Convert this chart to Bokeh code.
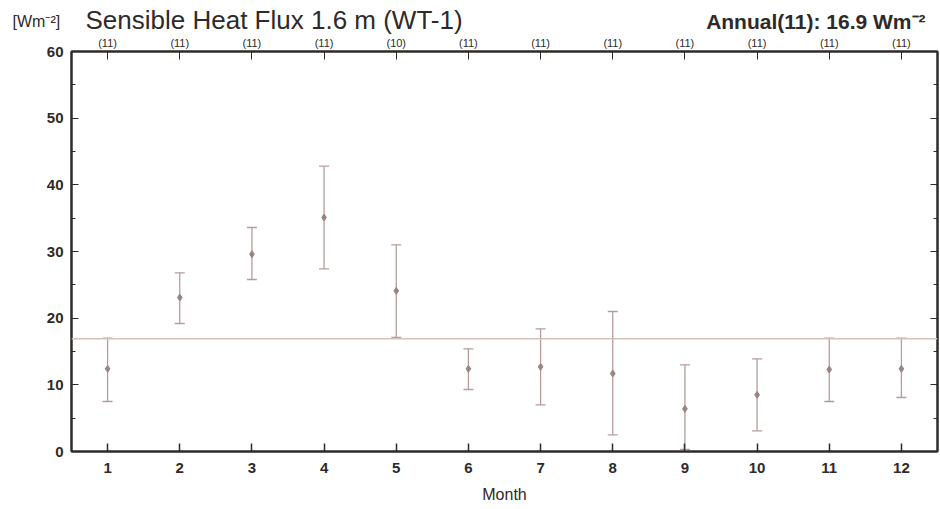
from bokeh.plotting import figure
from bokeh.models import (ColumnDataSource, Whisker, TeeHead, Span, Title, LinearAxis,
                          FixedTicker, SingleIntervalTicker, Range1d, CustomJSTickFormatter)
from bokeh.embed import file_html
from bokeh.resources import INLINE

months = [1, 2, 3, 4, 5, 6, 7, 8, 9, 10, 11, 12]
mean_flux = [12.4, 23.1, 29.6, 35.1, 24.1, 12.4, 12.7, 11.7, 6.4, 8.5, 12.3, 12.4]
upper_flux = [17.0, 26.8, 33.6, 42.8, 31.0, 15.4, 18.4, 21.0, 13.0, 13.9, 17.0, 17.0]
lower_flux = [7.5, 19.2, 25.8, 27.4, 17.1, 9.3, 7.0, 2.5, 0.3, 3.1, 7.5, 8.1]
counts = ["(11)", "(11)", "(11)", "(11)", "(10)", "(11)", "(11)", "(11)", "(11)", "(11)", "(11)", "(11)"]
annual_mean = 16.9
annual_n = 11
title_text = "Sensible Heat Flux 1.6 m (WT-1)"
unit_text = "[Wm\u207b\u00b2]"
annual_text = f"Annual({annual_n}): {annual_mean} Wm\u207b\u00b2"

FONT = "Liberation Sans"
DARK = "#2e2a2a"
BAR = "#b49e9c"
MEAN = "#9a8482"
LINE = "#d8c0bc"

src = ColumnDataSource(dict(x=months, m=mean_flux, up=upper_flux, lo=lower_flux))

p = figure(width=940, height=509, output_backend="svg", toolbar_location=None,
           x_range=Range1d(0.5, 12.5), y_range=Range1d(0, 60),
           min_border_left=71, min_border_top=51, min_border_bottom=58, min_border_right=3,
           x_axis_label="Month")
p.background_fill_color = "white"
p.border_fill_color = "white"
p.outline_line_color = DARK
p.outline_line_width = 2
p.xgrid.visible = False
p.ygrid.visible = False

# header texts as zero-height titles sharing one row
p.add_layout(Title(text=unit_text, align="left", offset=-59, standoff=-77, vertical_align="top",
                   text_font=FONT, text_font_size="16px", text_font_style="normal",
                   text_color=DARK), "above")
p.add_layout(Title(text=title_text, align="left", offset=14, standoff=-93, vertical_align="top",
                   text_font=FONT, text_font_size="26px", text_font_style="normal",
                   text_color=DARK), "above")
p.add_layout(Title(text=annual_text, align="right", offset=12, standoff=-84, vertical_align="top",
                   text_font=FONT, text_font_size="21px", text_font_style="bold",
                   text_color=DARK), "above")

# bottom axis
xa = p.xaxis[0]
xa.ticker = FixedTicker(ticks=months)
xa.major_tick_in = 8
xa.major_tick_out = 0
xa.minor_tick_line_color = None
xa.axis_line_color = DARK
xa.axis_line_width = 2
xa.major_tick_line_color = DARK
xa.major_tick_line_width = 1.5
xa.major_label_text_font = FONT
xa.major_label_text_font_style = "bold"
xa.major_label_text_font_size = "15px"
xa.major_label_text_color = DARK
xa.major_label_standoff = 11
xa.axis_label_text_font = FONT
xa.axis_label_text_font_style = "normal"
xa.axis_label_text_font_size = "16px"
xa.axis_label_text_color = DARK
xa.axis_label_standoff = 10

# left axis
ya = p.yaxis[0]
ya.ticker = SingleIntervalTicker(interval=10, num_minor_ticks=2)
ya.major_tick_in = 7
ya.major_tick_out = 0
ya.minor_tick_in = 4
ya.minor_tick_out = 0
ya.axis_line_color = DARK
ya.axis_line_width = 2
ya.major_tick_line_color = DARK
ya.minor_tick_line_color = DARK
ya.major_label_text_font = FONT
ya.major_label_text_font_style = "bold"
ya.major_label_text_font_size = "15px"
ya.major_label_text_color = DARK
ya.major_label_standoff = 8

# top axis with counts
top = LinearAxis(ticker=FixedTicker(ticks=months),
                 major_label_overrides={m: c for m, c in zip(months, counts)})
top.major_tick_in = 8
top.major_tick_out = 0
top.minor_tick_line_color = None
top.axis_line_color = DARK
top.axis_line_width = 2
top.major_tick_line_color = DARK
top.major_label_text_font = FONT
top.major_label_text_font_size = "11px"
top.major_label_text_color = DARK
top.major_label_standoff = 3
p.add_layout(top, "above")

# right axis (ticks only)
right = LinearAxis(ticker=SingleIntervalTicker(interval=10, num_minor_ticks=2),
                   formatter=CustomJSTickFormatter(code="return ''"))
right.major_tick_in = 7
right.major_tick_out = 0
right.minor_tick_in = 4
right.minor_tick_out = 0
right.axis_line_color = DARK
right.axis_line_width = 2
right.major_tick_line_color = DARK
right.minor_tick_line_color = DARK
right.major_label_standoff = 0
p.add_layout(right, "right")

# annual mean line
p.add_layout(Span(location=annual_mean, dimension="width", line_color=LINE, line_width=1.5))

# error bars
w = Whisker(source=src, base="x", upper="up", lower="lo", line_color=BAR, line_width=1.3,
            upper_head=TeeHead(size=10, line_color=BAR, line_width=1.3),
            lower_head=TeeHead(size=10, line_color=BAR, line_width=1.3))
p.add_layout(w)
p.scatter("x", "m", source=src, marker="diamond", size=7, color=MEAN)

open("out.html", "w").write(file_html(p, INLINE))
